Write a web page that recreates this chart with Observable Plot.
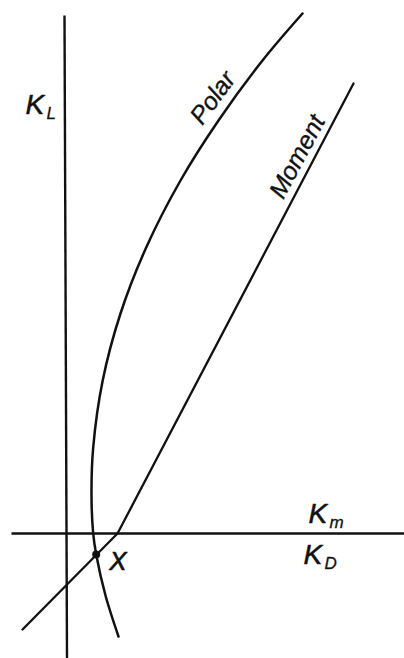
<!DOCTYPE html>
<html>
<head>
<meta charset="utf-8">
<script src="https://cdn.jsdelivr.net/npm/d3@7"></script>
<script src="https://cdn.jsdelivr.net/npm/@observablehq/plot@0.6"></script>
<style>
  html, body { margin: 0; padding: 0; background: #fff; }
  #chart svg { display: block; }
</style>
</head>
<body>
<div id="chart"></div>
<script>
// Drag polar (K_D against K_L) and moment curve (K_m against K_L), arbitrary units.
const polarKD = [23.7, 19.7, 15.3, 11.5, 8.07, 5.5, 3.72, 2.77, 2.6, 2.77, 3.07, 4.0, 5.3];
const polarKL = [52.0, 47.3, 41.3, 35.3, 28.6, 22.0, 15.3, 8.6, 3.8, 0, -2.1, -6.2, -10.3];
const momentKm = [-4.3, 5.2, 28.8];
const momentKL = [-9.6, 0, 45.0];
// Point X where the polar meets the moment curve
const pointX = [{kd: 3.07, kl: -2.1, name: "X"}];
// Extent of the two drawn axes
const horizAxisKD = [-5.4, 33.9];
const vertAxisKL = [51.8, -12.5];
const vertAxisKD = [-0.1, 0.15];
// Axis labels: main letter plus subscript, anchored in data units
const axisLabels = [
  {kd: -4.0, kl: 42.0, main: "K", sub: "L"},
  {kd: 24.3, kl: 1.1, main: "K", sub: "m"},
  {kd: 23.8, kl: -3.0, main: "K", sub: "D"}
];
// Curve names written along each curve
const curveLabels = [
  {kd: 15.4, kl: 43.1, text: "Polar", angle: -54},
  {kd: 23.9, kl: 37.3, text: "Moment", angle: -62}
];

const polar = polarKD.map((kd, i) => ({kd, kl: polarKL[i]}));
const moment = momentKm.map((kd, i) => ({kd, kl: momentKL[i]}));

const ink = "#111";
const font = "'Liberation Sans', Arial, sans-serif";

const chart = Plot.plot({
  width: 404,
  height: 658,
  margin: 0,
  x: {domain: [-6.5, 33.9], axis: null},
  y: {domain: [-12.5, 53.3], axis: null},
  style: {background: "#fff", fontFamily: font},
  marks: [
    // axes
    Plot.link([{}], {x1: horizAxisKD[0], x2: horizAxisKD[1], y1: 0, y2: 0, stroke: ink, strokeWidth: 2.4}),
    Plot.link([{}], {x1: vertAxisKD[0], x2: vertAxisKD[1], y1: vertAxisKL[0], y2: vertAxisKL[1], stroke: ink, strokeWidth: 2.4}),
    // curves
    Plot.line(polar, {x: "kd", y: "kl", curve: "catmull-rom", stroke: ink, strokeWidth: 2.5}),
    Plot.line(moment, {x: "kd", y: "kl", stroke: ink, strokeWidth: 2.3}),
    Plot.dot(pointX, {x: "kd", y: "kl", r: 4, fill: ink, stroke: "none"}),
    Plot.text(pointX, {x: "kd", y: "kl", text: "name", dx: 13, dy: 15, textAnchor: "start", lineAnchor: "bottom",
      fontSize: 26, fontStyle: "italic", fill: ink, stroke: ink, strokeWidth: 0.6}),
    // axis labels
    Plot.text(axisLabels, {x: "kd", y: "kl", text: "main", textAnchor: "start", lineAnchor: "bottom",
      fontSize: 28, fontStyle: "italic", fill: ink, stroke: ink, strokeWidth: 0.5}),
    Plot.text(axisLabels, {x: "kd", y: "kl", text: "sub", dx: 21, dy: 5, textAnchor: "start", lineAnchor: "bottom",
      fontSize: 17, fontStyle: "italic", fill: ink, stroke: ink, strokeWidth: 0.3}),
    // curve names
    Plot.text(curveLabels, {x: "kd", y: "kl", text: "text", rotate: d => d.angle, textAnchor: "middle", lineAnchor: "bottom",
      fontSize: 25, fontStyle: "italic", fill: ink, stroke: ink, strokeWidth: 0.3})
  ]
});

document.getElementById("chart").append(chart);
</script>
</body>
</html>
